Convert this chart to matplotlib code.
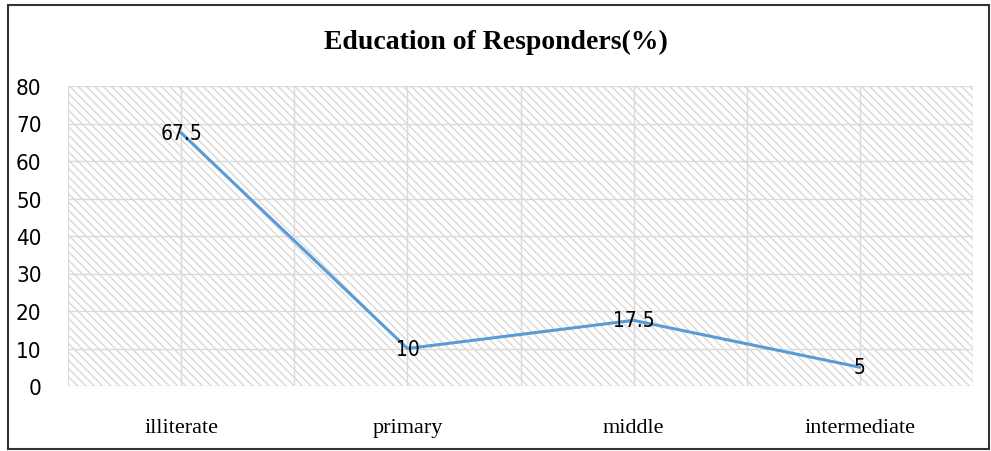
import matplotlib.pyplot as plt
from matplotlib.patches import Rectangle
import numpy as np

# data
categories = ['illiterate', 'primary', 'middle', 'intermediate']
values = [67.5, 10, 17.5, 5]
labels = ['67.5', '10', '17.5', '5']
yticks = [0, 10, 20, 30, 40, 50, 60, 70, 80]

W, H = 991, 452
fig = plt.figure(figsize=(W / 100, H / 100), dpi=100)
ax = fig.add_axes([68 / W, (H - 387) / H, (973 - 68) / W, (387 - 87) / H])

x = np.arange(len(categories))
ax.set_xlim(-0.5, len(categories) - 0.5)
ax.set_ylim(0, 80)

# hatched plot background
ax.add_patch(Rectangle((0, 0), 1, 1, transform=ax.transAxes, facecolor='white',
                       edgecolor='#d9d9d9', linewidth=0, hatch='\\' * 4, zorder=0))

# gridlines (every half category and every 10)
for gx in np.arange(-0.5, len(categories), 0.5):
    ax.axvline(gx, color='#dadada', linewidth=1, zorder=1)
for gy in yticks:
    ax.axhline(gy, color='#dadada', linewidth=1, zorder=1)

ax.plot(x, values, color='#5b9bd5', linewidth=2.2, zorder=3, solid_capstyle='round')

for xi, v, lab in zip(x, values, labels):
    ax.text(xi, v, lab, ha='center', va='center', fontsize=15,
            family='DejaVu Sans', stretch='condensed', zorder=4)

for s in ax.spines.values():
    s.set_visible(False)
ax.set_xticks(x)
ax.set_xticklabels(categories, family='Liberation Serif', fontsize=16)
ax.set_yticks(yticks)
ax.set_yticklabels([str(t) for t in yticks], family='DejaVu Sans', stretch='condensed', fontsize=16)
ax.tick_params(axis='both', length=0)
ax.tick_params(axis='x', pad=23)
ax.tick_params(axis='y', pad=19)

fig.text(0.5, (H - 42) / H, 'Education of Responders(%)', ha='center', va='center',
         family='Liberation Serif', fontweight='bold', fontsize=20)

# outer chart border
fig.add_artist(Rectangle((8 / W, 2 / H), (989 - 8) / W, (446 - 2) / H,
                         transform=fig.transFigure, fill=False, edgecolor='#333333', linewidth=1.5))

fig.savefig('out.png', dpi=100)
